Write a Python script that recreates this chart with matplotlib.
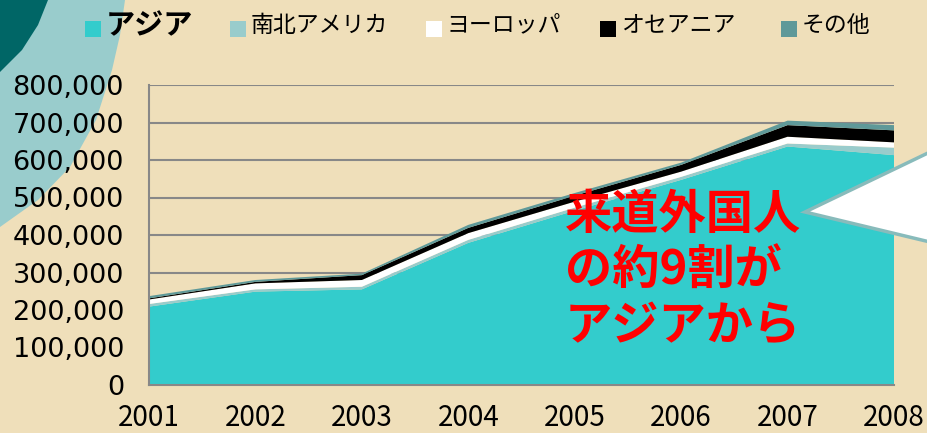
import matplotlib
matplotlib.use("Agg")
import matplotlib.pyplot as plt
from matplotlib.patches import Polygon, Rectangle
from matplotlib.ticker import FuncFormatter, MultipleLocator

# 来道外国人の地域別推移 (stacked, persons)
years = [2001, 2002, 2003, 2004, 2005, 2006, 2007, 2008]
asia = [209000, 249000, 255000, 379000, 465000, 547000, 636000, 613000]
americas = [7000, 6000, 7000, 8000, 8000, 8000, 8000, 20000]
europe = [12000, 16000, 18000, 18000, 16000, 14000, 18000, 14000]
oceania = [3000, 4000, 13000, 14000, 16000, 18000, 31000, 32000]
other = [6000, 5000, 4000, 8000, 7000, 6000, 12000, 14000]

series_names = ["アジア", "南北アメリカ", "ヨーロッパ", "オセアニア", "その他"]
colors = ["#33CCCC", "#99CCCC", "#FFFFFF", "#000000", "#5F9999"]
callout = "来道外国人\nの約9割が\nアジアから"

W, H, DPI = 927, 433, 100
BG = "#EFDFBA"
JP = ["Noto Sans CJK JP", "DejaVu Sans"]

fig = plt.figure(figsize=(W / DPI, H / DPI), dpi=DPI, facecolor=BG)


def px(x, y):
    """pixel coords (origin top-left) -> inches for dpi_scale_trans"""
    return (x / DPI, (H - y) / DPI)


# corner decoration
light = [(0, 0), (125, 0), (120, 35), (112, 70), (96, 120), (70, 167),
         (38, 200), (0, 227)]
dark = [(0, 0), (48, 0), (38, 25), (22, 50), (0, 72)]
for pts, col in ((light, "#99CCCC"), (dark, "#006666")):
    fig.patches.append(Polygon([px(*p) for p in pts], closed=True, fc=col,
                               ec="none", transform=fig.dpi_scale_trans,
                               zorder=0))

ax = fig.add_axes([149 / W, (H - 385) / H, (894 - 149) / W, 300 / H])
ax.set_zorder(2)
ax.set_facecolor("none")
ax.stackplot(years, asia, americas, europe, oceania, other, colors=colors,
             linewidth=0, zorder=2)
ax.set_xlim(2001, 2008)
ax.set_ylim(0, 800000)
ax.yaxis.set_major_locator(MultipleLocator(100000))
ax.yaxis.set_major_formatter(FuncFormatter(lambda v, _: f"{int(v):,}"))
ax.set_xticks(years)
ax.grid(axis="y", color="#888888", lw=1.5, zorder=1)
ax.set_axisbelow(True)
for s in ("top", "right"):
    ax.spines[s].set_visible(False)
for s in ("left", "bottom"):
    ax.spines[s].set_color("#888888")
    ax.spines[s].set_linewidth(1.5)
    ax.spines[s].set_zorder(3)
ax.tick_params(axis="y", length=0, pad=18, labelsize=19.5, labelcolor="black")
ax.tick_params(axis="x", length=0, pad=13, labelsize=20, labelcolor="black")
for lab in ax.get_xticklabels():
    lab.set_family(JP)

# legend row
sq_x = [85, 230, 426, 600, 781]
for i, (name, col) in enumerate(zip(series_names, colors)):
    fig.patches.append(Rectangle(px(sq_x[i], 37), 16 / DPI, 16 / DPI, fc=col,
                                 ec="none", transform=fig.dpi_scale_trans,
                                 zorder=3))
    bold = i == 0
    fig.text(*px(sq_x[i] + 21, 25), name, transform=fig.dpi_scale_trans,
             family=JP, fontsize=21 if bold else 16.5,
             weight="bold" if bold else "normal", va="center", ha="left")

# speech bubble pointing at the chart
fig.patches.append(Polygon([px(930, 152), px(805, 212), px(930, 242)],
                           closed=True, fc="white", ec="#88BBBB", lw=2.5,
                           transform=fig.dpi_scale_trans, zorder=4))

fig.text(*px(565, 191), callout, transform=fig.dpi_scale_trans, family=JP,
         fontsize=34, weight="bold", color="red", va="top", ha="left",
         linespacing=1.2, zorder=5)

fig.savefig("out.png", dpi=DPI, facecolor=BG)
